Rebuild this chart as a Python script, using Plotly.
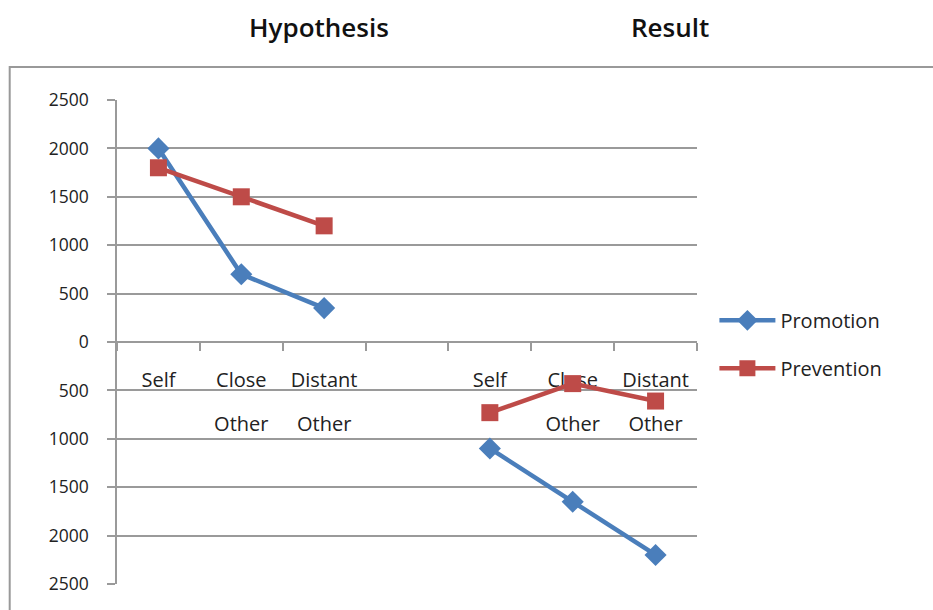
import plotly.graph_objects as go

# Category slots along the x axis (an empty slot separates the two panels)
categories = ["Self", "Close<br>Other", "Distant<br>Other", "",
              "Self", "Close<br>Other", "Distant<br>Other"]
label_line1 = ["Self", "Close", "Distant", "", "Self", "Close", "Distant"]
label_line2 = ["", "Other", "Other", "", "", "Other", "Other"]

promotion = [2000, 700, 350, None, -1100, -1650, -2200]
prevention = [1800, 1500, 1200, None, -730, -430, -610]

y_ticks = [-2500, -2000, -1500, -1000, -500, 0, 500, 1000, 1500, 2000, 2500]
y_tick_text = [str(abs(v)) for v in y_ticks]

panel_titles = ["Hypothesis", "Result"]

FONT = "Open Sans"
GRID = "#9a9a9a"
BLUE = "#4a7ebb"
RED = "#be4b48"

xs = list(range(len(categories)))
label_x = [i for i in xs if label_line1[i]]

fig = go.Figure()

# category labels, drawn underneath the series
fig.add_trace(go.Scatter(
    x=label_x, y=[-410] * len(label_x),
    text=[label_line1[i] for i in label_x],
    mode="text", textfont=dict(family=FONT, size=20, color="#222"),
    showlegend=False, hoverinfo="skip"))
row2_x = [i for i in xs if label_line2[i]]
fig.add_trace(go.Scatter(
    x=row2_x, y=[-865] * len(row2_x),
    text=[label_line2[i] for i in row2_x],
    mode="text", textfont=dict(family=FONT, size=20, color="#222"),
    showlegend=False, hoverinfo="skip"))

fig.add_trace(go.Scatter(
    x=xs, y=promotion, name="Promotion", mode="lines+markers",
    connectgaps=False, legendgroup="a",
    line=dict(color=BLUE, width=4.5),
    marker=dict(symbol="diamond", size=17, color=BLUE)))
fig.add_trace(go.Scatter(
    x=xs, y=prevention, name="Prevention", mode="lines+markers",
    connectgaps=False, legendgroup="b",
    line=dict(color=RED, width=4.5),
    marker=dict(symbol="square", size=17, color=RED)))

fig.update_layout(
    width=933, height=610,
    margin=dict(l=117, r=236, t=100, b=26),
    paper_bgcolor="white", plot_bgcolor="white",
    font=dict(family=FONT, color="#222"),
    legend=dict(x=1.03, y=0.585, xanchor="left", yanchor="top",
                font=dict(size=20, family=FONT, color="#222"),
                itemwidth=56, tracegroupgap=19, traceorder="grouped",
                bgcolor="rgba(0,0,0,0)"),
    xaxis=dict(range=[-0.5, len(categories) - 0.5],
               anchor="free", position=0.5,
               tickvals=[i - 0.5 for i in range(len(categories) + 1)],
               showticklabels=False, ticks="outside", ticklen=8,
               tickcolor=GRID, tickwidth=1.5,
               showgrid=False, zeroline=False, showline=False),
    yaxis=dict(range=[-2500, 2500], tickvals=y_ticks, ticktext=y_tick_text,
               ticks="outside", ticklen=8, tickcolor=GRID, tickwidth=1.5,
               ticklabelstandoff=15,
               tickfont=dict(size=17.5, family=FONT, color="#222"),
               showgrid=True, gridcolor=GRID, gridwidth=1.5,
               zeroline=True, zerolinecolor=GRID, zerolinewidth=1.5,
               showline=True, linecolor=GRID, linewidth=1.5),
)

# outer frame
fig.add_shape(type="rect", xref="paper", yref="paper",
              x0=-0.185, x1=1.45, y0=-0.2, y1=1.068,
              line=dict(color="#999", width=2), layer="below")

# panel titles
for title, xp in zip(panel_titles, [0.348, 0.953]):
    fig.add_annotation(text=title, xref="paper", yref="paper",
                       x=xp, y=1.15, xanchor="center", yanchor="middle",
                       showarrow=False,
                       font=dict(size=26, family=FONT, color="#111", weight=600))

fig.write_html("out.html")
